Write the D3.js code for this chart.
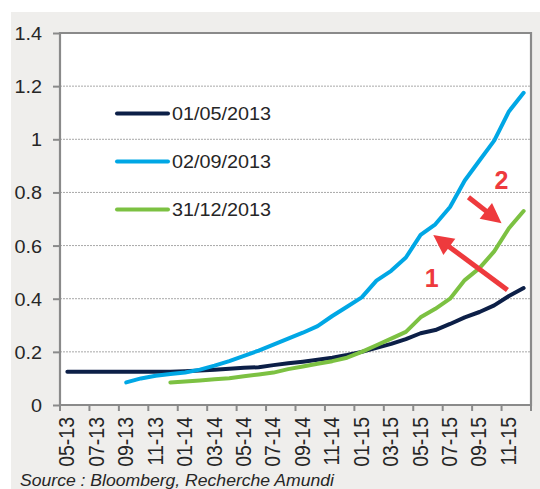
<!DOCTYPE html>
<html>
<head>
<meta charset="utf-8">
<script src="https://cdn.jsdelivr.net/npm/d3@7"></script>
<style>
  html, body { margin: 0; padding: 0; background: #ffffff; }
  svg { display: block; }
  text { font-family: "Liberation Sans", Arial, sans-serif; }
</style>
</head>
<body>
<svg id="chart" width="540" height="489"></svg>
<script>
// Monthly categories, May 2013 to December 2015
const months = [
  "05-13","06-13","07-13","08-13","09-13","10-13","11-13","12-13",
  "01-14","02-14","03-14","04-14","05-14","06-14","07-14","08-14",
  "09-14","10-14","11-14","12-14","01-15","02-15","03-15","04-15",
  "05-15","06-15","07-15","08-15","09-15","10-15","11-15","12-15"
];
// Labelled every second month
const tickLabels = months.filter((d, i) => i % 2 === 0);
const yTicks = [0, 0.2, 0.4, 0.6, 0.8, 1, 1.2, 1.4];

// Curve as of 01/05/2013 (starts 05-13)
const curveMay = [
  0.125, 0.125, 0.125, 0.125, 0.125, 0.125, 0.125, 0.125,
  0.127, 0.130, 0.133, 0.136, 0.140, 0.142, 0.150, 0.157,
  0.163, 0.170, 0.178, 0.188, 0.200, 0.215, 0.230, 0.248,
  0.270, 0.282, 0.305, 0.330, 0.350, 0.375, 0.410, 0.440
];
// Curve as of 02/09/2013 (starts 09-13)
const curveSep = [
  0.085, 0.100, 0.110, 0.117,
  0.122, 0.133, 0.148, 0.165, 0.185, 0.205, 0.227, 0.250,
  0.272, 0.297, 0.335, 0.370, 0.405, 0.468, 0.505, 0.555,
  0.640, 0.680, 0.745, 0.845, 0.920, 0.995, 1.105, 1.175
];
// Curve as of 31/12/2013 (starts 12-13)
const curveDec = [
  0.085,
  0.088, 0.092, 0.097, 0.101, 0.108, 0.115, 0.122, 0.135,
  0.145, 0.155, 0.165, 0.178, 0.200, 0.225, 0.250, 0.275,
  0.330, 0.362, 0.400, 0.470, 0.515, 0.578, 0.665, 0.730
];

const seriesNames = ["01/05/2013", "02/09/2013", "31/12/2013"];
const seriesStart = ["05-13", "09-13", "12-13"];
const seriesValues = [curveMay, curveSep, curveDec];
const seriesColors = ["#0c1f47", "#00a7e5", "#7cc142"];

// Annotation arrows: [month index, value] tail -> head
const arrowLabels = ["1", "2"];
const arrowTails = [[29.9, 0.433], [27.25, 0.782]];
const arrowHeads = [[24.86, 0.640], [29.5, 0.684]];
const arrowLabelPos = [[24.75, 0.445], [29.5, 0.814]];

const svg = d3.select("#chart");
const W = 540, H = 489;
const plot = { left: 60, right: 531, top: 33, bottom: 405 };
const stretch = "scale(1.1,1)";

// Panel background
svg.append("rect").attr("x", 11).attr("y", 12)
  .attr("width", W - 11).attr("height", H - 12).attr("fill", "#efeeec");
svg.append("rect").attr("x", plot.left).attr("y", plot.top)
  .attr("width", plot.right - plot.left).attr("height", plot.bottom - plot.top)
  .attr("fill", "#ffffff");

const x = d3.scaleBand().domain(months).range([plot.left, plot.right]).padding(0);
const xIdx = d3.scaleLinear().domain([-0.5, months.length - 0.5]).range([plot.left, plot.right]);
const y = d3.scaleLinear().domain([0, 1.4]).range([plot.bottom, plot.top]);

// Gridlines
svg.append("g").selectAll("line").data(yTicks.filter(v => v > 0 && v < 1.4)).join("line")
  .attr("x1", plot.left).attr("x2", plot.right)
  .attr("y1", d => y(d)).attr("y2", d => y(d))
  .attr("stroke", "#a8a8a8").attr("stroke-width", 1).attr("stroke-dasharray", "2,1");

// Y axis
const yAxis = svg.append("g").attr("transform", `translate(${plot.left},0)`)
  .call(d3.axisLeft(y).tickValues(yTicks).tickSize(7).tickFormat(d3.format("~g")));
yAxis.select(".domain").remove();
yAxis.selectAll(".tick line").attr("stroke", "#8a8a8a").attr("stroke-width", 2);
yAxis.selectAll(".tick text")
  .attr("x", null).attr("dy", null)
  .attr("transform", `translate(-18,6.5) ${stretch}`)
  .attr("font-size", 18).attr("fill", "#262626")
  .attr("font-family", "Liberation Sans, Arial, sans-serif");

// X axis: ticks on month boundaries, labels centered on the month
const xg = svg.append("g");
const boundaries = months.filter((d, i) => i % 2 === 0).map(d => x(d)).concat([plot.right]);
xg.selectAll("line").data(boundaries).join("line")
  .attr("x1", d => d).attr("x2", d => d)
  .attr("y1", plot.bottom).attr("y2", plot.bottom + 6)
  .attr("stroke", "#8a8a8a").attr("stroke-width", 2);
xg.selectAll("text").data(tickLabels).join("text")
  .attr("transform", d => `translate(${x(d) + x.bandwidth() / 2 + 7},${plot.bottom + 12}) ${stretch} rotate(-90)`)
  .attr("text-anchor", "end")
  .attr("font-size", 19.5).attr("fill", "#262626")
  .text(d => d);

// Plot frame
svg.append("path")
  .attr("d", `M${plot.left},${plot.bottom}V${plot.top}H${plot.right}V${plot.bottom}Z`)
  .attr("fill", "none").attr("stroke", "#8a8a8a").attr("stroke-width", 2.2);

// Series lines
const line = d3.line().x(d => x(d[0]) + x.bandwidth() / 2).y(d => y(d[1]));
seriesValues.forEach((vals, s) => {
  const start = months.indexOf(seriesStart[s]);
  const pts = vals.map((v, i) => [months[start + i], v]);
  svg.append("path").datum(pts)
    .attr("d", line)
    .attr("fill", "none").attr("stroke", seriesColors[s])
    .attr("stroke-width", 4).attr("stroke-linejoin", "round").attr("stroke-linecap", "round");
});

// Legend
const legend = svg.append("g");
seriesNames.forEach((name, i) => {
  const ly = 113.5 + i * 48;
  legend.append("line").attr("x1", 117).attr("x2", 168).attr("y1", ly).attr("y2", ly)
    .attr("stroke", seriesColors[i]).attr("stroke-width", 4).attr("stroke-linecap", "round");
  legend.append("text")
    .attr("transform", `translate(172,${ly + 6.5}) ${stretch}`)
    .attr("font-size", 18).attr("fill", "#262626").text(name);
});

// Red annotation arrows
const red = "#ee3a3d";
arrowTails.forEach((t, i) => {
  const x1 = xIdx(t[0]), y1 = y(t[1]);
  const x2 = xIdx(arrowHeads[i][0]), y2 = y(arrowHeads[i][1]);
  const ang = Math.atan2(y2 - y1, x2 - x1);
  const headLen = 20, headHalf = 10;
  const bx = x2 - headLen * Math.cos(ang), by = y2 - headLen * Math.sin(ang);
  svg.append("line").attr("x1", x1).attr("y1", y1).attr("x2", bx + 2 * Math.cos(ang)).attr("y2", by + 2 * Math.sin(ang))
    .attr("stroke", red).attr("stroke-width", 5);
  const px = -Math.sin(ang), py = Math.cos(ang);
  svg.append("path")
    .attr("d", `M${x2},${y2}L${bx + headHalf * px},${by + headHalf * py}L${bx - headHalf * px},${by - headHalf * py}Z`)
    .attr("fill", red);
  svg.append("text")
    .attr("x", xIdx(arrowLabelPos[i][0])).attr("y", y(arrowLabelPos[i][1]))
    .attr("text-anchor", "middle").attr("font-size", 25).attr("font-weight", "bold")
    .attr("fill", red).text(arrowLabels[i]);
});

// Source note
svg.append("text")
  .attr("transform", `translate(20,486) ${stretch}`)
  .attr("font-size", 16).attr("font-style", "italic").attr("fill", "#262626")
  .text("Source : Bloomberg, Recherche Amundi");
</script>
</body>
</html>
